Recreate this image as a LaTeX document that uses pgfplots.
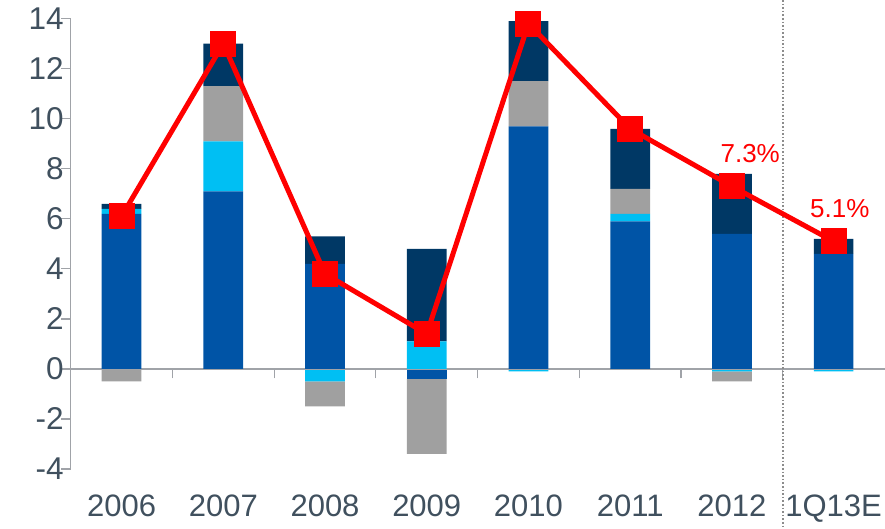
\documentclass[border=0pt]{standalone}
\usepackage{pgfplots}
\pgfplotsset{compat=1.18}
\usepackage{fontspec}
\setmainfont{Liberation Sans}
\definecolor{cDB}{RGB}{0,84,166}
\definecolor{cCY}{RGB}{0,191,243}
\definecolor{cGR}{RGB}{160,160,160}
\definecolor{cNV}{RGB}{0,56,101}
\definecolor{axc}{RGB}{160,163,168}
\definecolor{tickc}{RGB}{64,80,94}
\pgfplotsset{base/.style={scale only axis, width=813.8pt, height=450.3pt,
  xmin=-0.5, xmax=7.5, ymin=-4, ymax=14, clip=false,
  at={(0,0)}, anchor=south west,
  /pgf/number format/assume math mode=true}}
\begin{document}
\begin{tikzpicture}
\useasboundingbox (-70.7pt,-59pt) rectangle (814.3pt,469pt);
% negative parts
\begin{axis}[base, ybar stacked, bar width=0.39,
  axis x line=bottom, axis y line=none, x axis line style={draw=none},
  xtick={0,...,7}, xticklabels={2006,2007,2008,2009,2010,2011,2012,1Q13E},
  xtick style={draw=none}, ytick=\empty,
  xticklabel style={font=\fontsize{31}{36}\selectfont, text=tickc, yshift=-20pt}]
\addplot[fill=cDB, draw=none] coordinates {(0,0) (1,0) (2,0) (3,-0.4) (4,0) (5,0) (6,0) (7,0)};
\addplot[fill=cCY, draw=none] coordinates {(0,0) (1,0) (2,-0.5) (3,0) (4,-0.1) (5,0) (6,-0.1) (7,-0.1)};
\addplot[fill=cGR, draw=none] coordinates {(0,-0.5) (1,0) (2,-1.0) (3,-3.0) (4,0) (5,0) (6,-0.4) (7,0)};
\end{axis}
% positive parts and axes
\begin{axis}[base, ybar stacked, bar width=0.39,
  axis x line=middle, axis y line=left,
  axis line style={draw=axc, line width=1.2pt, -},
  xtick={0.5,1.5,...,6.5}, xticklabels={},
  ytick={-4,-2,...,14}, tick align=outside, major tick length=9.5pt,
  tick style={draw=axc, line width=1.2pt},
  yticklabel style={font=\fontsize{31.5}{36}\selectfont, text=tickc, xshift=6pt}]
\addplot[fill=cDB, draw=none] coordinates {(0,6.2) (1,7.1) (2,4.2) (3,0) (4,9.7) (5,5.9) (6,5.4) (7,4.6)};
\addplot[fill=cCY, draw=none] coordinates {(0,0.2) (1,2.0) (2,0) (3,1.1) (4,0) (5,0.3) (6,0) (7,0)};
\addplot[fill=cGR, draw=none] coordinates {(0,0) (1,2.2) (2,0) (3,0) (4,1.8) (5,1.0) (6,0) (7,0)};
\addplot[fill=cNV, draw=none] coordinates {(0,0.2) (1,1.7) (2,1.1) (3,3.7) (4,2.4) (5,2.4) (6,2.4) (7,0.6)};
\draw[dotted, draw=gray!90, line width=1.6pt] (axis cs:6.5,14.75) -- (axis cs:6.5,-6.4);
\end{axis}
% line
\begin{axis}[base, hide axis]
\addplot[red, line width=5pt, mark=square*, mark size=10.5pt, mark options={solid, fill=red}]
  coordinates {(0,6.1) (1,13.0) (2,3.8) (3,1.4) (4,13.8) (5,9.6) (6,7.3) (7,5.1)};
\node[text=red, font=\fontsize{26}{30}\selectfont] at (axis cs:6.18,8.62) {7.3\%};
\node[text=red, font=\fontsize{26}{30}\selectfont] at (axis cs:7.06,6.42) {5.1\%};
\end{axis}
\end{tikzpicture}
\end{document}
